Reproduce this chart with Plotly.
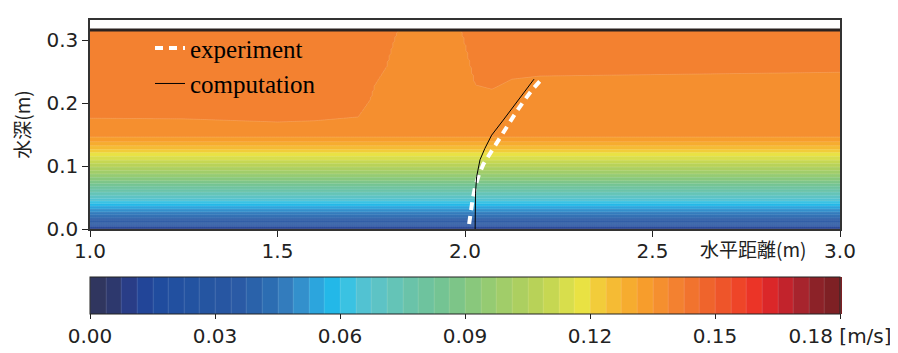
import numpy as np
import plotly.graph_objects as go

# ---------------- data ----------------
# vertical velocity profile in the lower layer (height m, velocity m/s)
profile_h = [0.000, 0.003, 0.010, 0.020, 0.035, 0.049, 0.060, 0.078, 0.097, 0.110, 0.120, 0.128, 0.140, 0.147, 0.160]
profile_u = [0.010, 0.013, 0.030, 0.043, 0.055, 0.068, 0.076, 0.091, 0.104, 0.113, 0.119, 0.125, 0.132, 0.1355, 0.137]

# upper layer: two velocity bands separated by a boundary line
mid_band_u = 0.137
top_band_u = 0.1405
boundary_x = [1.0, 1.25, 1.5, 1.6, 1.715, 1.747, 1.76, 1.79, 1.813, 1.832, 1.98, 1.995, 2.027, 2.072, 2.125, 2.2, 2.6, 3.0]
boundary_h = [0.176, 0.175, 0.170, 0.172, 0.178, 0.205, 0.229, 0.257, 0.303, 0.330, 0.330, 0.305, 0.229, 0.222, 0.238, 0.243, 0.246, 0.249]

water_surface = 0.316
field_top = 0.315

# profiles (x, height)
experiment_x = [2.011, 2.015, 2.020, 2.027, 2.037, 2.049, 2.067, 2.083, 2.102, 2.120, 2.139, 2.159, 2.179, 2.200]
experiment_h = [0.008, 0.026, 0.046, 0.067, 0.086, 0.103, 0.120, 0.137, 0.154, 0.172, 0.188, 0.205, 0.221, 0.235]
computation_x = [2.027, 2.027, 2.028, 2.031, 2.040, 2.053, 2.071, 2.102, 2.138, 2.184]
computation_h = [0.000, 0.030, 0.057, 0.083, 0.110, 0.128, 0.149, 0.173, 0.202, 0.238]

# colour levels
level_start, level_end, level_step = 0.0, 0.18, 0.00375
cbar_ticks = [0.00, 0.03, 0.06, 0.09, 0.12, 0.15, 0.18]
cbar_labels = ["0.00", "0.03", "0.06", "0.09", "0.12", "0.15", "0.18 [m/s]"]
x_ticks = [1.0, 1.5, 2.0, 2.5, 3.0]
y_ticks = [0.0, 0.1, 0.2, 0.3]

band_colors = [
    "#30365f", "#2b3a7a", "#273f92", "#1f4a9c", "#214e9f", "#2252a0", "#2454a1", "#2555a1",
    "#2857a3", "#2b5ca6", "#2a64ab", "#2d70b4", "#3580c0", "#3394cf", "#2aa9e0", "#22bbea",
    "#3fc3e0", "#55c2d0", "#5ec3c4", "#65c4b6", "#6ac3a8", "#6ec39d", "#74c493", "#7dc588",
    "#89c87c", "#95cb72", "#a0cd69", "#abcf61", "#b7d259", "#c4d653", "#d5dd4d", "#e8e545",
    "#f1cf3b", "#f5be35", "#f6af30", "#f7a12c", "#f5922e", "#f48530", "#f2772f", "#f0692d",
    "#ee5a2b", "#ee4b29", "#ee3a27", "#e52a27", "#cc232b", "#b4242e", "#98242c", "#7e2024",
]

# ---------------- build the field grid ----------------
x_grid = np.linspace(1.0, 3.0, 401)
h_grid = np.linspace(0.0, field_top, 316)
b_line = np.interp(x_grid, boundary_x, boundary_h)
lower = np.interp(h_grid, profile_h, profile_u)
ramp = 0.004
Z = np.empty((len(h_grid), len(x_grid)))
for i, h in enumerate(h_grid):
    if h <= profile_h[-1]:
        Z[i, :] = lower[i]
    else:
        w = np.clip((h - b_line) / ramp + 0.5, 0.0, 1.0)
        Z[i, :] = mid_band_u + (top_band_u - mid_band_u) * w

n_levels = int(round((level_end - level_start) / level_step)) + 1
colorscale = [[0.0, band_colors[0]]]
for k, c in enumerate(band_colors):
    colorscale.append([(k + 1) / n_levels, c])
colorscale.append([1.0, band_colors[-1]])

fig = go.Figure()

fig.add_trace(go.Contour(
    x=x_grid, y=h_grid, z=Z,
    zmin=level_start, zmax=level_end, zauto=False,
    autocontour=False,
    contours=dict(start=level_start, end=level_end, size=level_step, coloring="fill"),
    line=dict(width=0.5, color="rgba(255,255,255,0.3)", smoothing=1),
    colorscale=colorscale,
    showlegend=False,
    hoverinfo="skip",
    colorbar=dict(
        orientation="h", x=0.5, xanchor="center", y=-0.2297, yanchor="top",
        len=1.0, lenmode="fraction", thickness=37, thicknessmode="pixels",
        xpad=0, ypad=0, outlinewidth=1, outlinecolor="#222",
        ticks="outside", ticklen=5, tickcolor="#222",
        tickvals=cbar_ticks, ticktext=cbar_labels,
        tickfont=dict(family="DejaVu Sans", size=20, color="#222"),
    ),
))

fig.add_trace(go.Scatter(
    x=[1.0, 3.0], y=[water_surface, water_surface], mode="lines",
    line=dict(color="#2a2220", width=3), showlegend=False, hoverinfo="skip",
))

fig.add_trace(go.Scatter(
    x=experiment_x, y=experiment_h, mode="lines", name="experiment",
    line=dict(color="white", width=4, dash="8px,6px"),
))
fig.add_trace(go.Scatter(
    x=computation_x, y=computation_h, mode="lines", name="computation",
    line=dict(color="black", width=1),
))

# the page adds an 8px body margin, so the figure is sized 8px smaller
fig.update_layout(
    width=890, height=345,
    margin=dict(l=82, r=58, t=12, b=124, autoexpand=False),
    paper_bgcolor="white", plot_bgcolor="white",
    font=dict(family="DejaVu Sans", size=20, color="#222"),
    legend=dict(
        x=0.08, y=0.975, xanchor="left", yanchor="top",
        bgcolor="rgba(0,0,0,0)", borderwidth=0,
        font=dict(family="Liberation Serif", size=25, color="black"),
        tracegroupgap=0,
    ),
    xaxis=dict(
        range=[1.0, 3.0], tickvals=x_ticks, ticktext=[f"{v:.1f}" for v in x_ticks],
        ticks="outside", ticklen=6, tickcolor="#222", ticklabelstandoff=-3,
        showline=True, linecolor="#333", linewidth=1.5, mirror=True,
        showgrid=False, zeroline=False,
    ),
    yaxis=dict(
        range=[0.0, 0.332], tickvals=y_ticks, ticktext=[f"{v:.1f}" for v in y_ticks],
        ticks="outside", ticklen=6, tickcolor="#222",
        showline=True, linecolor="#333", linewidth=1.5, mirror=True,
        showgrid=False, zeroline=False,
        title=dict(text="水深(m)", font=dict(family="Noto Sans CJK JP", size=19), standoff=14),
    ),
    annotations=[
        dict(text="水平距離(m)", x=2.768, xref="x", y=-0.091, yref="paper",
             xanchor="center", yanchor="middle", showarrow=False,
             font=dict(family="Noto Sans CJK JP", size=19, color="#222")),
    ],
)

fig.write_html("out.html")
